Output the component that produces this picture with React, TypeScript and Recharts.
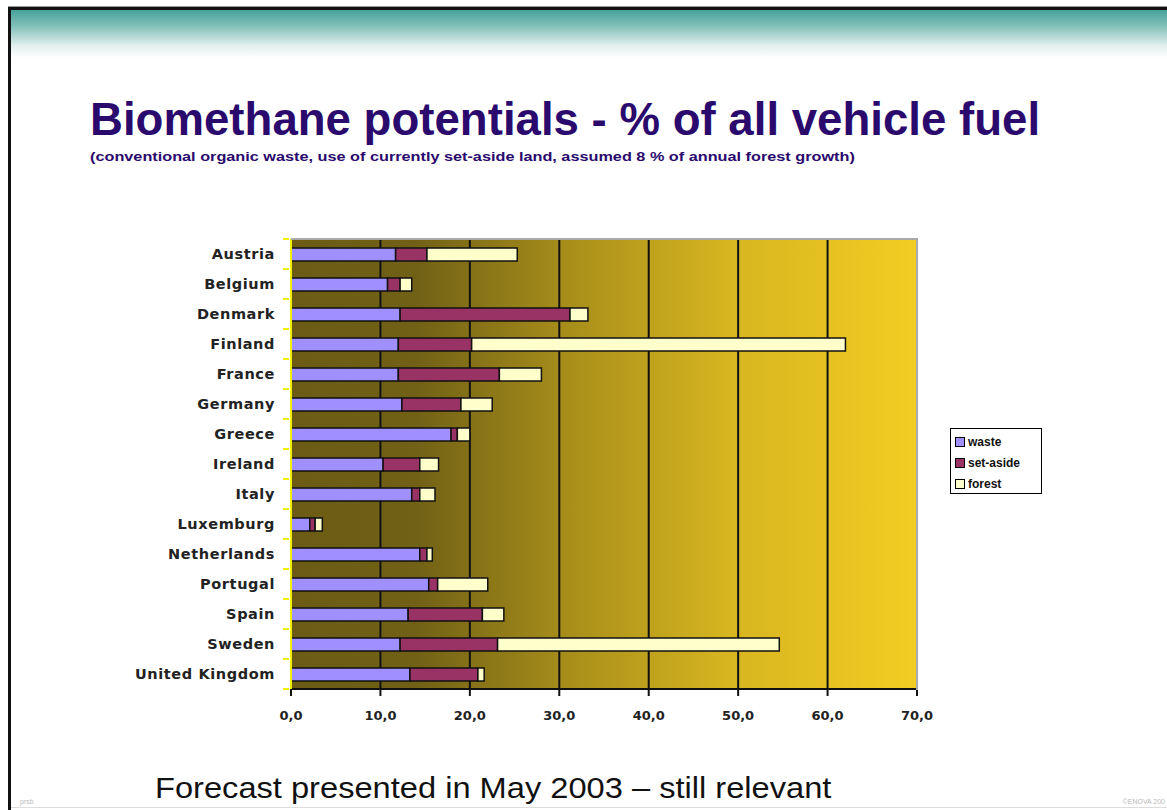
import React from 'react';
import { BarChart, Bar, XAxis, YAxis, CartesianGrid } from 'recharts';

const countries = [
  'Austria', 'Belgium', 'Denmark', 'Finland', 'France', 'Germany', 'Greece', 'Ireland',
  'Italy', 'Luxemburg', 'Netherlands', 'Portugal', 'Spain', 'Sweden', 'United Kingdom',
];
const waste = [11.7, 10.8, 12.2, 12.0, 12.0, 12.4, 17.9, 10.3, 13.5, 2.1, 14.4, 15.4, 13.1, 12.2, 13.3];
const setAside = [3.5, 1.4, 19.0, 8.2, 11.3, 6.6, 0.7, 4.1, 0.9, 0.6, 0.8, 1.0, 8.3, 10.9, 7.6];
const forest = [10.1, 1.3, 2.0, 41.8, 4.7, 3.5, 1.4, 2.1, 1.7, 0.8, 0.6, 5.6, 2.4, 31.5, 0.7];
const xTicks = [0, 10, 20, 30, 40, 50, 60, 70];

const data = countries.map((c, i) => ({ country: c, waste: waste[i], setAside: setAside[i], forest: forest[i] }));

const PLOT_LEFT = 291;
const PLOT_RIGHT = 917;
const PLOT_TOP = 239;
const PLOT_H = 450;
const BAND = PLOT_H / countries.length;

// category label + yellow tick mark between categories (Excel style)
const CountryTick = (props: any) => {
  const { x, y, payload, index } = props;
  return (
    <g>
      <line x1={x + 8} x2={x + 14} y1={y - BAND / 2} y2={y - BAND / 2} stroke="#f0f000" strokeWidth={2} />
      {index === countries.length - 1 && (
        <line x1={x + 8} x2={x + 14} y1={y + BAND / 2} y2={y + BAND / 2} stroke="#f0f000" strokeWidth={2} />
      )}
      <text x={x} y={y} dy={5} textAnchor="end" fill="#222" fontSize={14.5} fontWeight="bold" letterSpacing={0.6}
        fontFamily="'DejaVu Sans', Verdana, sans-serif">
        {payload.value}
      </text>
    </g>
  );
};

const legendItems = [
  { label: 'waste', color: '#9f8fff' },
  { label: 'set-aside', color: '#993366' },
  { label: 'forest', color: '#ffffcc' },
];

export default function App() {
  return (
    <div style={{ position: 'absolute', left: 0, top: 0, width: 1167, height: 810, background: '#fff', overflow: 'hidden', fontFamily: "'Liberation Sans', Arial, sans-serif" }}>
      {/* slide frame */}
      <div style={{ position: 'absolute', left: 8, top: 6, right: 0, height: 1, background: '#999' }} />
      <div style={{ position: 'absolute', left: 8, top: 7, right: 0, height: 3, background: '#111' }} />
      <div style={{ position: 'absolute', left: 8, top: 7, width: 3, bottom: 0, background: '#111' }} />
      <div style={{ position: 'absolute', left: 11, top: 10, right: 0, height: 48, background: 'linear-gradient(to bottom, #45a199 0%, #86c1bb 35%, #e3f0ee 75%, #ffffff 100%)' }} />
      <div style={{ position: 'absolute', left: 11, top: 807, right: 0, height: 1, background: '#ddd' }} />
      <div style={{ position: 'absolute', left: 20, top: 798, fontSize: 7, color: '#bbb' }}>prsb</div>
      <div style={{ position: 'absolute', right: 2, top: 798, fontSize: 7, color: '#bbb' }}>©ENOVA 200</div>

      <div style={{ position: 'absolute', left: 90, top: 94, fontSize: 45.6, fontWeight: 'bold', color: '#2b0a6e', whiteSpace: 'nowrap' }}>
        Biomethane potentials - % of all vehicle fuel
      </div>
      <div style={{ position: 'absolute', left: 90, top: 150, fontSize: 12.5, fontWeight: 'bold', color: '#2b0a6e', whiteSpace: 'nowrap', transform: 'scaleX(1.3)', transformOrigin: 'left center' }}>
        (conventional organic waste, use of currently set-aside land, assumed 8 % of annual forest growth)
      </div>
      <div style={{ position: 'absolute', left: 155, top: 772, fontSize: 29, color: '#111', whiteSpace: 'nowrap', transform: 'scaleX(1.125)', transformOrigin: 'left center' }}>
        Forecast presented in May 2003 – still relevant
      </div>

      <div style={{ position: 'absolute', left: 0, top: 0 }}>
        <BarChart
          width={1167}
          height={740}
          layout="vertical"
          data={data}
          barSize={13}
          margin={{ top: PLOT_TOP, right: 1167 - PLOT_RIGHT, left: 0, bottom: 21 }}
        >
          <defs>
            <linearGradient id="plotBg" x1="0" y1="0" x2="1" y2="0">
              <stop offset="0%" stopColor="#6c5b14" />
              <stop offset="20%" stopColor="#716116" />
              <stop offset="45%" stopColor="#a98f1a" />
              <stop offset="70%" stopColor="#d6b520" />
              <stop offset="100%" stopColor="#f2cd22" />
            </linearGradient>
          </defs>
          <CartesianGrid horizontal={false} stroke="#111" strokeWidth={2} fill="url(#plotBg)" fillOpacity={1} />
          <XAxis
            type="number"
            domain={[0, 70]}
            ticks={xTicks}
            interval={0}
            height={30}
            axisLine={{ stroke: '#111', strokeWidth: 2 }}
            tickLine={{ stroke: '#111', strokeWidth: 2 }}
            tickSize={7}
            tickFormatter={(v: number) => v.toFixed(1).replace('.', ',')}
            tick={{ fill: '#222', fontSize: 13, fontWeight: 'bold', fontFamily: "'DejaVu Sans', Verdana, sans-serif", dy: 13 }}
          />
          <YAxis
            type="category"
            dataKey="country"
            width={PLOT_LEFT}
            interval={0}
            axisLine={{ stroke: '#f0f000', strokeWidth: 2 }}
            tickLine={false}
            tickSize={14}
            tick={<CountryTick />}
          />
          <Bar dataKey="waste" stackId="a" fill="#9f8fff" stroke="#111" strokeWidth={1.5} isAnimationActive={false} />
          <Bar dataKey="setAside" stackId="a" fill="#993366" stroke="#111" strokeWidth={1.5} isAnimationActive={false} />
          <Bar dataKey="forest" stackId="a" fill="#ffffcc" stroke="#111" strokeWidth={1.5} isAnimationActive={false} />
        </BarChart>
      </div>
      {/* grey plot border top/right */}
      <div style={{ position: 'absolute', left: PLOT_LEFT, top: PLOT_TOP - 1, width: PLOT_RIGHT - PLOT_LEFT - 1, height: PLOT_H, borderTop: '2px solid #aaa', borderRight: '2px solid #aaa', pointerEvents: 'none' }} />

      {/* legend */}
      <div style={{ position: 'absolute', left: 950, top: 428, width: 92, height: 66, border: '1px solid #000', background: '#fff', padding: '2px 0 0 4px', boxSizing: 'border-box' }}>
        {legendItems.map((it) => (
          <div key={it.label} style={{ display: 'flex', alignItems: 'center', height: 21 }}>
            <span style={{ width: 8, height: 8, background: it.color, border: '1px solid #000', marginRight: 3 }} />
            <span style={{ fontSize: 12, color: '#111', fontWeight: 'bold', display: 'inline-block', transform: 'scaleX(1.0)', transformOrigin: 'left center' }}>{it.label}</span>
          </div>
        ))}
      </div>
    </div>
  );
}
